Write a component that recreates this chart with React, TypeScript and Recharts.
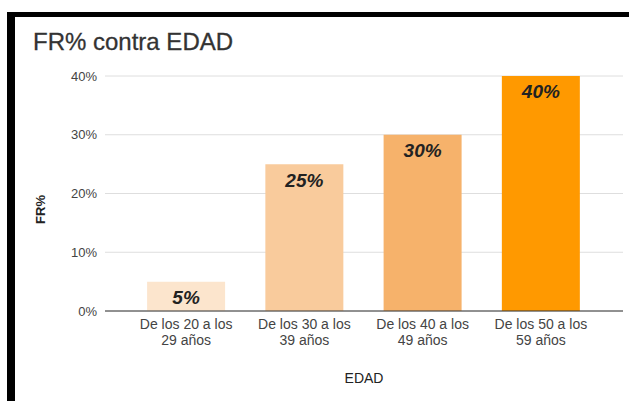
import React from "react";
import { BarChart, Bar, XAxis, YAxis, CartesianGrid, Cell, LabelList, Label } from "recharts";

const categories = ["De los 20 a los 29 años", "De los 30 a los 39 años", "De los 40 a los 49 años", "De los 50 a los 59 años"];
const frValues = [0.05, 0.25, 0.3, 0.4];
const barColors = ["#fce5cd", "#f9cb9c", "#f6b26b", "#ff9900"];
const yTicks = [0, 0.1, 0.2, 0.3, 0.4];

const FONT = "Arial, 'Liberation Sans', sans-serif";

const data = categories.map((name, i) => ({ name: name, fr: frValues[i] }));

const pct = (v: number) => Math.round(v * 100) + "%";

// tick de dos lineas: "De los 20 a los" / "29 años"
const EdadTick = (props: any) => {
    const { x, y, payload } = props;
    const words = String(payload.value).split(" ");
    const line1 = words.slice(0, words.length - 2).join(" ");
    const line2 = words.slice(words.length - 2).join(" ");
    return (
        <text x={x} y={y} textAnchor="middle" fill="#444" fontSize={14} fontFamily={FONT}>
            <tspan x={x} dy={10}>{line1}</tspan>
            <tspan x={x} dy={16}>{line2}</tspan>
        </text>
    );
};

const FrLabel = (props: any) => {
    const vb = props.viewBox || { x: 0, y: 0, height: 0 };
    const cx = 40;
    const cy = vb.y + vb.height / 2 + 16;
    return (
        <text
            x={cx}
            y={cy}
            transform={`rotate(-90 ${cx} ${cy})`}
            textAnchor="middle"
            dominantBaseline="central"
            fill="#222"
            fontSize={13}
            fontWeight="bold"
            fontFamily={FONT}
        >
            FR%
        </text>
    );
};

export default function App() {
    return (
        <div style={{ position: "absolute", left: 0, top: 0, width: 629, height: 401, background: "#fff", overflow: "hidden" }}>
            <div style={{ position: "absolute", left: 7, top: 12, width: 622, height: 5, background: "#000" }} />
            <div style={{ position: "absolute", left: 7, top: 12, width: 8, height: 389, background: "#000" }} />
            <div
                style={{
                    position: "absolute",
                    left: 33,
                    top: 30,
                    fontSize: 24,
                    lineHeight: "24px",
                    fontFamily: FONT,
                    color: "#333",
                    whiteSpace: "nowrap",
                    WebkitTextStroke: "0.3px #333",
                }}
            >
                FR% contra EDAD
            </div>
            <div style={{ position: "absolute", left: 0, top: 0 }}>
                <BarChart width={629} height={401} data={data} margin={{ top: 76, right: 6, left: 0, bottom: 0 }} barCategoryGap="17%">
                    <CartesianGrid vertical={false} stroke="#dedede" />
                    <XAxis
                        dataKey="name"
                        height={90}
                        padding={{ left: 22, right: 23 }}
                        tick={<EdadTick />}
                        tickLine={false}
                        axisLine={{ stroke: "#333" }}
                        interval={0}
                    >
                        <Label value="EDAD" position="insideBottom" offset={18} fill="#222" fontSize={14} fontFamily={FONT} />
                    </XAxis>
                    <YAxis
                        width={105}
                        domain={[0, 0.4]}
                        ticks={yTicks}
                        tickFormatter={pct}
                        axisLine={false}
                        tickLine={false}
                        tick={{ fill: "#444", fontSize: 13, fontFamily: FONT }}
                        label={<FrLabel />}
                    />
                    <Bar dataKey="fr" isAnimationActive={false}>
                        {data.map((entry, index) => (
                            <Cell key={`cell-${index}`} fill={barColors[index]} />
                        ))}
                        <LabelList
                            dataKey="fr"
                            position="insideTop"
                            offset={9}
                            formatter={(v: any) => pct(Number(v))}
                            fill="#222"
                            fontSize={19}
                            fontWeight="bold"
                            fontStyle="italic"
                            fontFamily={FONT}
                        />
                    </Bar>
                </BarChart>
            </div>
        </div>
    );
}
